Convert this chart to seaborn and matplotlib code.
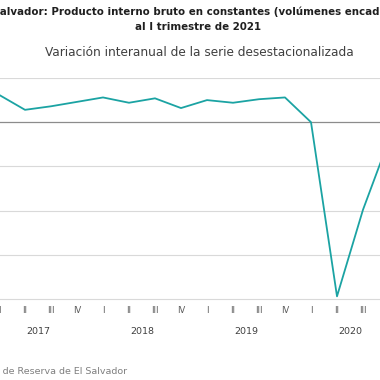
import numpy as np
import pandas as pd
import seaborn as sns
import matplotlib.pyplot as plt

# Quarterly year-on-year change of the seasonally adjusted series (%)
years = ["2017", "2018", "2019", "2020", "2021"]
quarters = ["I", "II", "III", "IV"]
values = [3.1, 1.4, 1.8, 2.3,
          2.8, 2.2, 2.7, 1.6,
          2.5, 2.2, 2.6, 2.8,
          0.0, -19.7, -9.9, -2.0,
          3.5]

labels = [quarters[i % 4] for i in range(len(values))]
df = pd.DataFrame({"idx": np.arange(len(values)), "var": values})

sns.set_theme(style="white")
plt.rcParams["font.family"] = ["DejaVu Sans"]

W = H = 380
fig = plt.figure(figsize=(3.8, 3.8), dpi=100)
step = 26.0
shift = -1
left_px = -0.5 * step + shift
right_px = (len(values) - 0.5) * step + shift
ax = fig.add_axes([left_px / W, (H - 299) / H, (right_px - left_px) / W, (299 - 78) / H])

sns.lineplot(data=df, x="idx", y="var", ax=ax, color="#1ba3a3", linewidth=1.3)

ax.set_xlim(-0.5, len(values) - 0.5)
ax.set_ylim(-20, 5)
ax.set_yticks([5, 0, -5, -10, -15, -20])
ax.set_yticklabels([])
ax.tick_params(axis="y", length=0)
for yv in [5, -5, -10, -15]:
    ax.axhline(yv, color="#d9d9d9", linewidth=0.8, zorder=0)
ax.axhline(0, color="#8c8c8c", linewidth=0.9, zorder=1)

for s in ["top", "left", "right"]:
    ax.spines[s].set_visible(False)
ax.spines["bottom"].set_color("#d9d9d9")
ax.spines["bottom"].set_linewidth(0.8)

ax.set_xticks(df["idx"])
ax.set_xticklabels(labels, fontsize=6, color="#595959")
ax.tick_params(axis="x", which="major", length=0, pad=5)
ax.set_xticks([3.5, 7.5, 11.5, 15.5], minor=True)
ax.tick_params(axis="x", which="minor", length=27, width=0.7, color="#a6a6a6")
ax.set_xlabel("")
ax.set_ylabel("")

for k, yr in enumerate(years):
    ax.text(4 * k + 1.5, -0.145, yr, transform=ax.get_xaxis_transform(),
            ha="center", va="center", fontsize=6.8, color="#404040")

# title lines (cropped on the left like the reference)
tsize = 7.4
rend = fig.canvas.get_renderer()
probe = fig.text(0, 0, "El S", fontsize=tsize, fontweight="bold")
off = probe.get_window_extent(rend).width
probe.remove()
fig.text(-off / W, 1 - 12 / H,
         "El Salvador: Producto interno bruto en constantes (volúmenes encadenados)",
         ha="left", va="center", fontsize=tsize, fontweight="bold", color="#1f1f1f")
fig.text(198 / W, 1 - 27 / H, "al I trimestre de 2021",
         ha="center", va="center", fontsize=tsize, fontweight="bold", color="#1f1f1f")
fig.text(199 / W, 1 - 53 / H, "Variación interanual de la serie desestacionalizada",
         ha="center", va="center", fontsize=8.7, color="#404040")
fig.text(127 / W, 1 - 371 / H, "Fuente: Banco Central de Reserva de El Salvador",
         ha="right", va="center", fontsize=6.8, color="#7f7f7f")

fig.savefig("out.png", dpi=100)
